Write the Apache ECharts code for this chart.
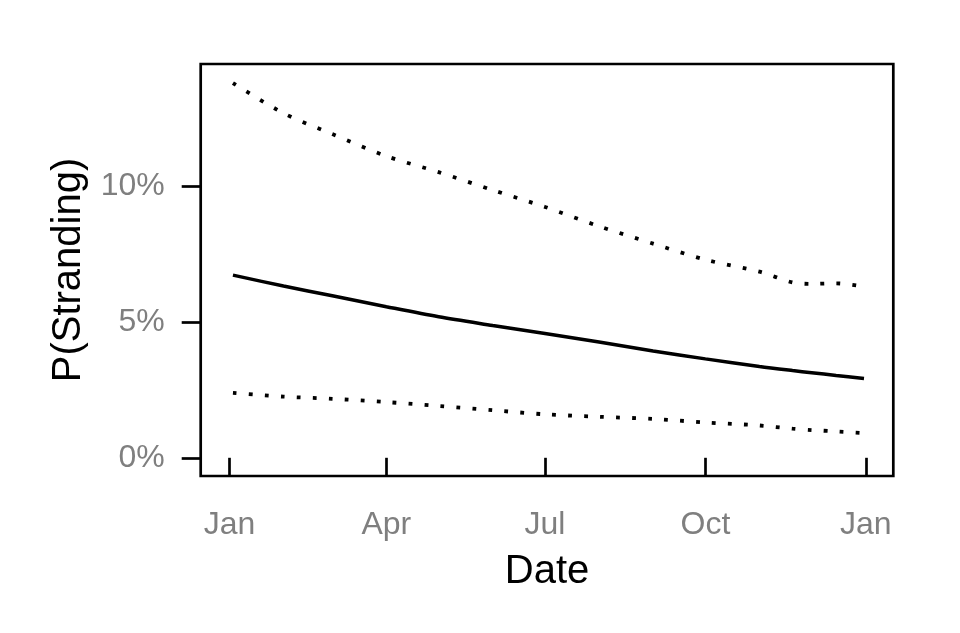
<!DOCTYPE html>
<html>
<head>
<meta charset="utf-8">
<script src="https://cdn.jsdelivr.net/npm/echarts@6/dist/echarts.min.js"></script>
<style>
html,body{margin:0;padding:0;background:#fff;}
#chart{width:960px;height:633px;}
</style>
</head>
<body>
<div id="chart"></div>
<script>
// ---- data (values in percent) ----
const dates = ['2015-01-03','2015-02-01','2015-03-01','2015-04-01','2015-05-01','2015-06-01','2015-07-01','2015-08-01','2015-09-01','2015-10-01','2015-11-01','2015-11-20','2015-12-01','2015-12-15','2015-12-31'];
const estimate = [6.72, 6.32, 5.96, 5.56, 5.19, 4.87, 4.57, 4.26, 3.93, 3.64, 3.36, 3.21, 3.13, 3.03, 2.92];
const upper    = [13.79, 12.68, 11.91, 11.10, 10.51, 9.85, 9.23, 8.52, 7.88, 7.29, 6.85, 6.45, 6.40, 6.42, 6.30];
const lower    = [2.39, 2.25, 2.17, 2.05, 1.91, 1.75, 1.60, 1.51, 1.43, 1.30, 1.19, 1.07, 1.02, 0.97, 0.91];
const xTickDates = ['2015-01-01','2015-04-01','2015-07-01','2015-10-01','2016-01-01'];
const xTickLabels = ['Jan','Apr','Jul','Oct','Jan'];
const yTicks = [0, 5, 10];

function ts(s){ const p = s.split('-').map(Number); return Date.UTC(p[0], p[1]-1, p[2]); }
const DAY = 86400000;
const xTickTs = xTickDates.map(ts);
const pairs = arr => dates.map((d,i) => [ts(d), arr[i]]);

const FONT = 'Liberation Sans, Arial, sans-serif';
const chart = echarts.init(document.getElementById('chart'), null, {renderer:'canvas'});
chart.setOption({
  animation: false,
  backgroundColor: '#fff',
  grid: {left: 200.7, right: 66.7, top: 64, bottom: 157, show: true, borderColor: '#000', borderWidth: 2.7, backgroundColor: 'transparent', outerBoundsMode: 'none'},
  xAxis: {
    type: 'value',
    min: xTickTs[0] - 16.5*DAY,
    max: xTickTs[4] + 15.8*DAY,
    name: 'Date', nameLocation: 'middle', nameGap: 76,
    nameTextStyle: {fontSize: 40, color: '#000', fontFamily: FONT},
    axisLine: {show: false},
    splitLine: {show: false},
    axisTick: {show: true, length: 19, customValues: xTickTs, lineStyle: {color: '#000', width: 2.7}},
    axisLabel: {show: true, customValues: xTickTs, margin: 33, fontSize: 32, color: '#7f7f7f', fontFamily: FONT,
      formatter: v => { const i = xTickTs.indexOf(v); return i >= 0 ? xTickLabels[i] : ''; }}
  },
  yAxis: {
    type: 'value',
    min: -0.67, max: 14.49,
    name: 'P(Stranding)', nameLocation: 'middle', nameGap: 112,
    nameTextStyle: {fontSize: 40, color: '#000', fontFamily: FONT},
    axisLine: {show: false},
    splitLine: {show: false},
    axisTick: {show: true, length: 19, customValues: yTicks, lineStyle: {color: '#000', width: 2.7}},
    axisLabel: {show: true, customValues: yTicks, margin: 36, fontSize: 32, color: '#7f7f7f', fontFamily: FONT, formatter: '{value}%'}
  },
  series: [
    {type: 'line', data: pairs(upper), showSymbol: false, smooth: 0.3, lineStyle: {color: '#000', width: 3.8, type: [3.8, 12.2], cap: 'butt'}},
    {type: 'line', data: pairs(estimate), showSymbol: false, smooth: 0.3, lineStyle: {color: '#000', width: 3.5}},
    {type: 'line', data: pairs(lower), showSymbol: false, smooth: 0.3, lineStyle: {color: '#000', width: 3.8, type: [3.8, 12.2], cap: 'butt'}}
  ]
});
</script>
</body>
</html>
